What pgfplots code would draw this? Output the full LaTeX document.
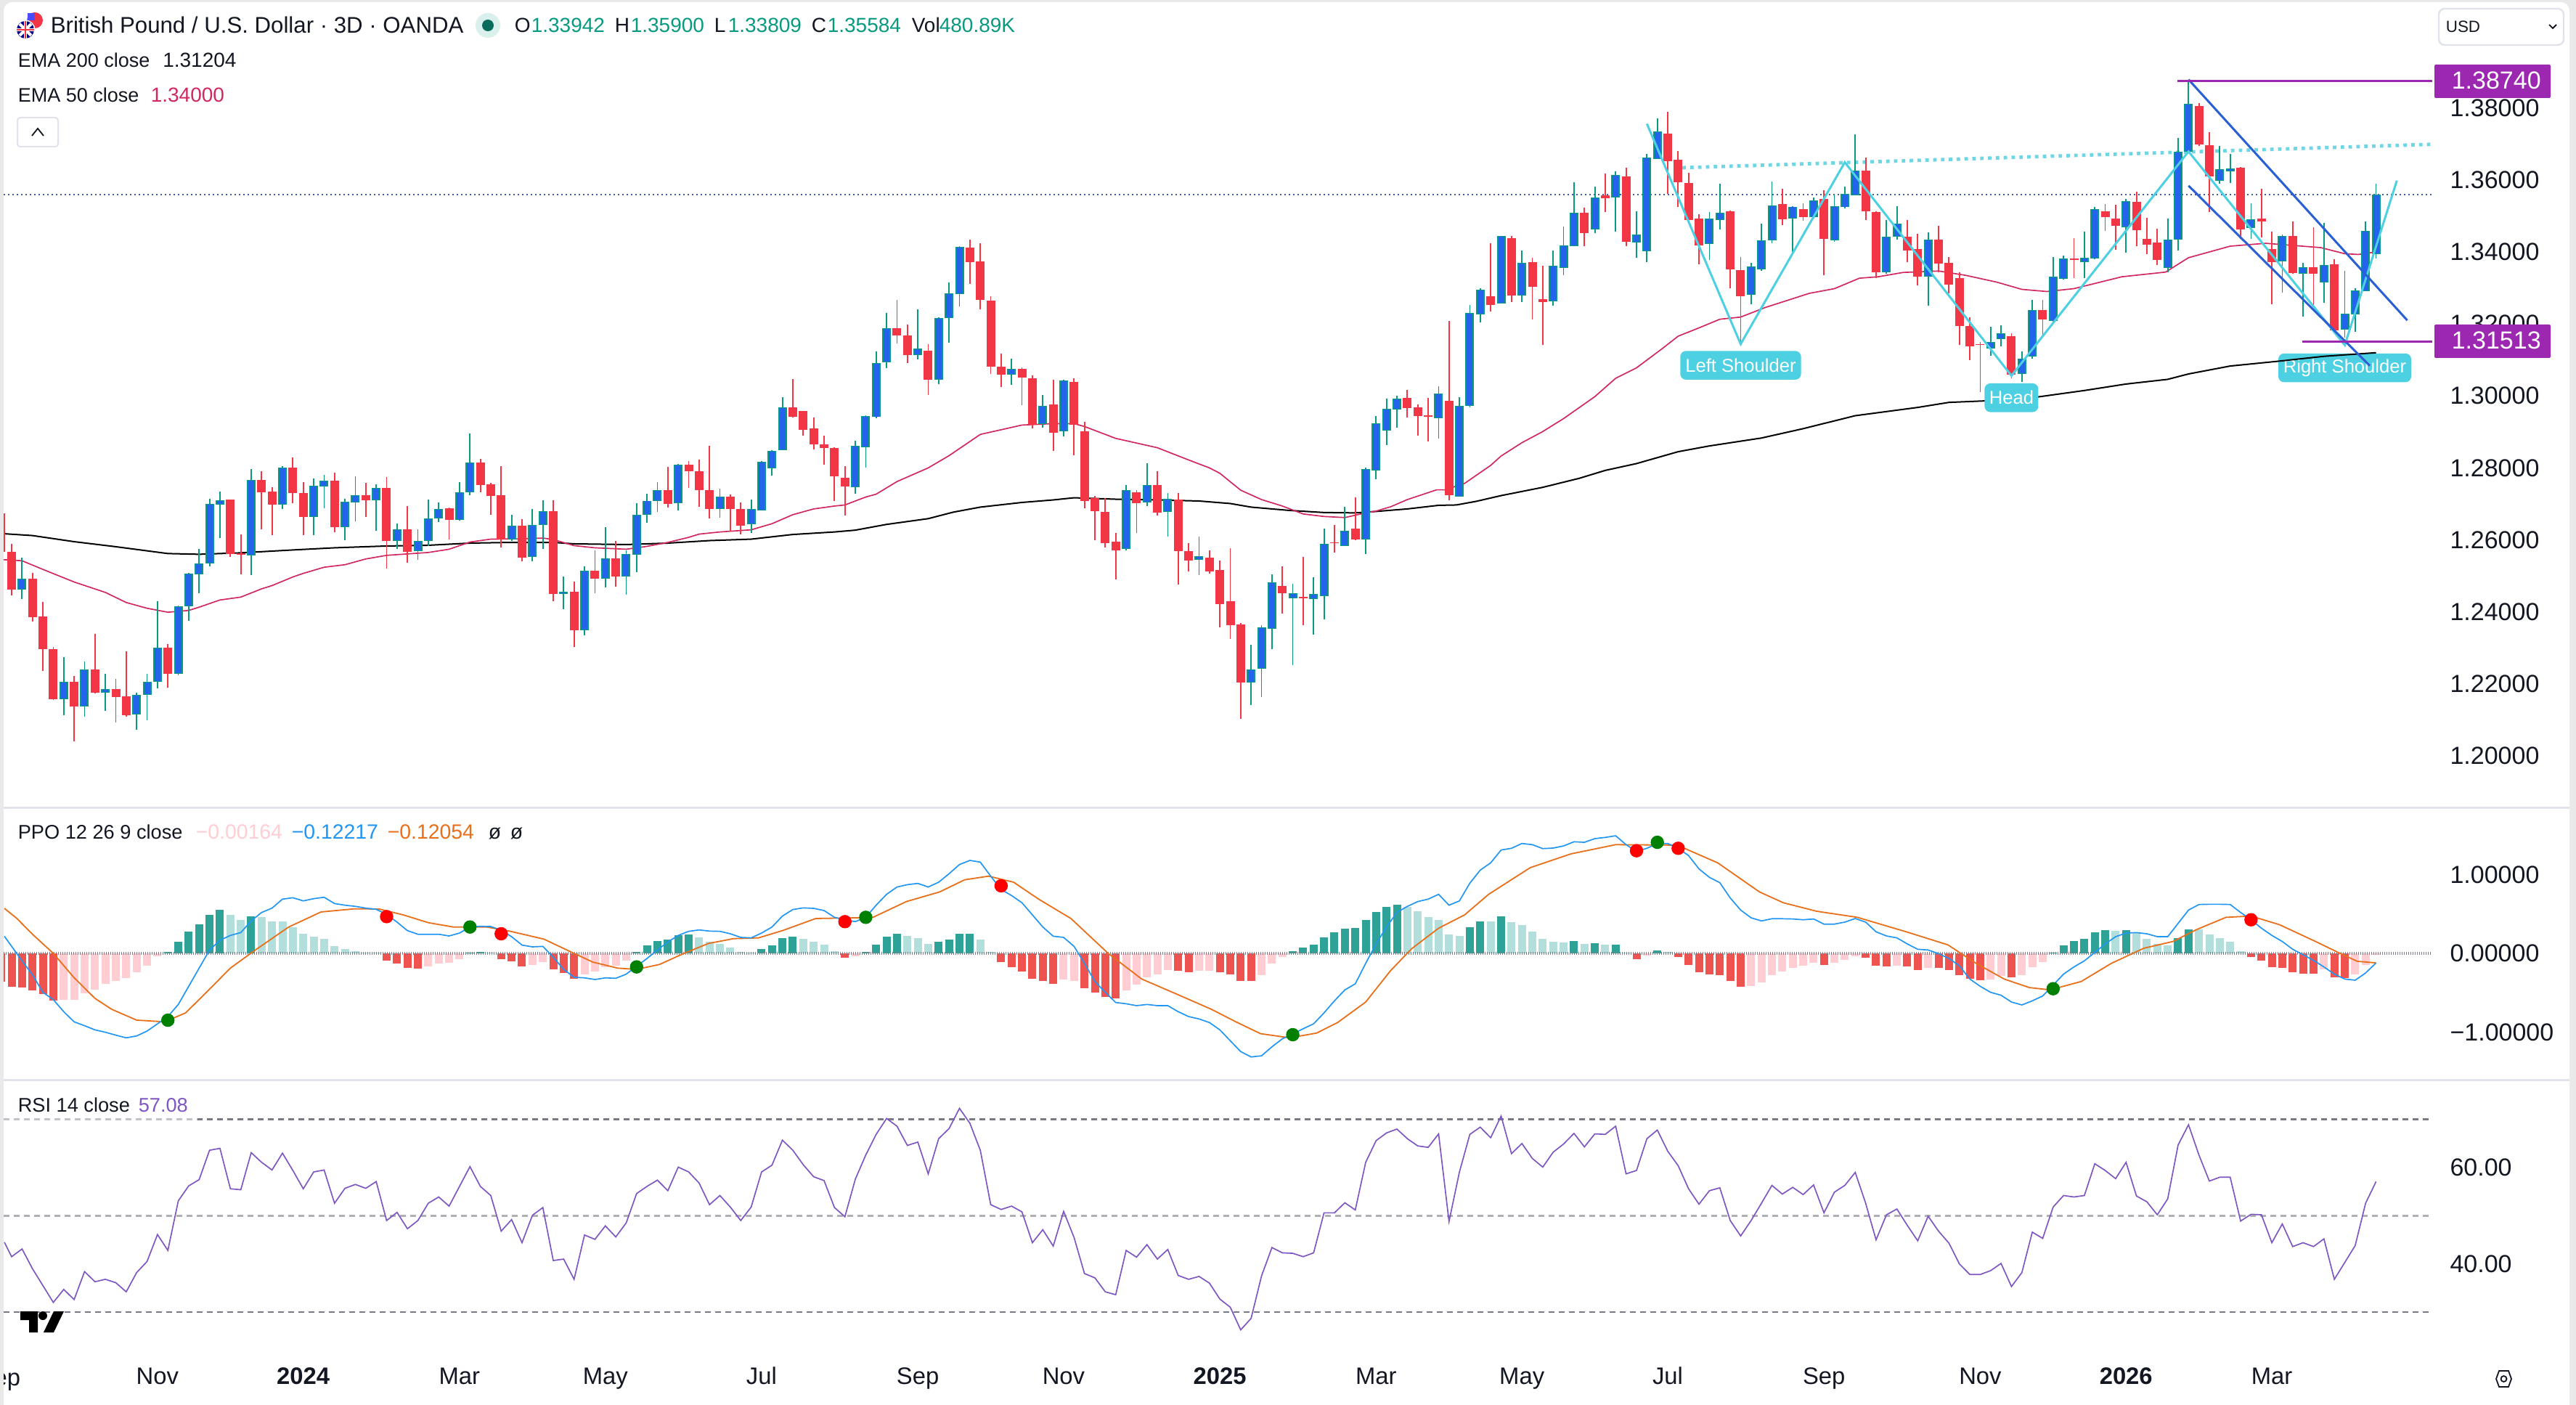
\documentclass[border=0pt]{standalone}
\usepackage{fontspec}
\setmainfont{Liberation Sans}
\usepackage{pgfplots}
\usepackage{pgfplotstable}
\pgfplotsset{compat=1.18}

\definecolor{ink}{HTML}{131722}
\definecolor{bullwick}{HTML}{089981}
\definecolor{bullbody}{HTML}{2463EB}
\definecolor{bear}{HTML}{F23645}
\definecolor{ema50}{HTML}{D0285F}
\definecolor{pane}{HTML}{E0E3EB}
\definecolor{frame}{HTML}{E9E9E9}
\definecolor{pricedot}{HTML}{3F5CA8}
\definecolor{patt}{HTML}{4DD0E1}
\definecolor{neck}{HTML}{6FD6E4}
\definecolor{flag}{HTML}{2A5FD5}
\definecolor{lvl}{HTML}{9C27B0}
\definecolor{hup}{HTML}{2FA297}
\definecolor{hupl}{HTML}{B2DFDB}
\definecolor{hdn}{HTML}{EF5350}
\definecolor{hdnl}{HTML}{FFCDD2}
\definecolor{ppoline}{HTML}{2196F3}
\definecolor{sigline}{HTML}{E8701A}
\definecolor{rsiline}{HTML}{7E57C2}
\definecolor{rsidash}{HTML}{787B86}

\newcommand{\fs}[1]{\fontsize{#1}{#1}\selectfont}
% left aligned text at a pixel position (baseline)
\newcommand{\txt}[5]{\node[anchor=base west,inner sep=0pt,text=#3,font=\fs{#4}] at (#1,#2) {#5};}
\tikzset{tag/.style={fill=patt,text=white,rounded corners=2pt,inner sep=0pt,font=\fs{6.4},minimum height=9.9pt}}

% i open high low close (body top/bottom read off the candles)
\pgfplotstableread{
i o h l c
-0.7 1.2600 1.2674 1.2566 1.2600
0 1.2566 1.2588 1.2446 1.2462
1 1.2462 1.2551 1.2436 1.2492
2 1.2492 1.2508 1.2373 1.2385
3 1.2387 1.2427 1.2236 1.2296
4 1.2296 1.2302 1.2155 1.2157
5 1.2157 1.2274 1.2113 1.2205
6 1.2205 1.2221 1.2040 1.2138
7 1.2138 1.2263 1.2108 1.2239
8 1.2239 1.2338 1.2174 1.2175
9 1.2175 1.2228 1.2124 1.2185
10 1.2185 1.2213 1.2092 1.2163
11 1.2165 1.2290 1.2109 1.2113
12 1.2114 1.2176 1.2072 1.2170
13 1.2170 1.2228 1.2098 1.2205
14 1.2205 1.2429 1.2188 1.2301
15 1.2301 1.2310 1.2189 1.2228
16 1.2228 1.2417 1.2224 1.2416
17 1.2415 1.2508 1.2375 1.2506
18 1.2504 1.2574 1.2452 1.2535
19 1.2535 1.2715 1.2526 1.2699
20 1.2697 1.2734 1.2605 1.2711
21 1.2712 1.2713 1.2553 1.2560
22 1.2562 1.2615 1.2504 1.2558
23 1.2557 1.2796 1.2503 1.2766
24 1.2766 1.2790 1.2629 1.2732
25 1.2734 1.2746 1.2614 1.2697
26 1.2697 1.2804 1.2686 1.2801
27 1.2801 1.2829 1.2701 1.2731
28 1.2731 1.2761 1.2614 1.2664
29 1.2664 1.2771 1.2614 1.2750
30 1.2748 1.2781 1.2687 1.2764
31 1.2764 1.2786 1.2622 1.2636
32 1.2636 1.2715 1.2599 1.2705
33 1.2703 1.2776 1.2651 1.2725
34 1.2725 1.2759 1.2664 1.2710
35 1.2710 1.2755 1.2626 1.2744
36 1.2744 1.2774 1.2520 1.2597
37 1.2597 1.2645 1.2574 1.2630
38 1.2630 1.2693 1.2537 1.2566
39 1.2568 1.2630 1.2544 1.2597
40 1.2597 1.2712 1.2582 1.2660
41 1.2660 1.2703 1.2649 1.2686
42 1.2688 1.2690 1.2601 1.2656
43 1.2656 1.2761 1.2653 1.2733
44 1.2733 1.2896 1.2724 1.2814
45 1.2815 1.2825 1.2732 1.2753
46 1.2754 1.2759 1.2670 1.2722
47 1.2724 1.2804 1.2578 1.2601
48 1.2602 1.2670 1.2597 1.2640
49 1.2640 1.2657 1.2541 1.2551
50 1.2552 1.2685 1.2541 1.2642
51 1.2642 1.2711 1.2575 1.2679
52 1.2680 1.2710 1.2429 1.2450
53 1.2450 1.2499 1.2408 1.2456
54 1.2456 1.2485 1.2302 1.2349
55 1.2349 1.2527 1.2334 1.2514
56 1.2514 1.2571 1.2452 1.2492
57 1.2492 1.2636 1.2467 1.2548
58 1.2548 1.2597 1.2470 1.2498
59 1.2498 1.2570 1.2448 1.2560
60 1.2559 1.2701 1.2510 1.2670
61 1.2670 1.2728 1.2648 1.2709
62 1.2709 1.2761 1.2678 1.2739
63 1.2739 1.2803 1.2690 1.2700
64 1.2701 1.2811 1.2682 1.2808
65 1.2808 1.2819 1.2745 1.2791
66 1.2791 1.2822 1.2691 1.2739
67 1.2739 1.2861 1.2660 1.2686
68 1.2686 1.2742 1.2662 1.2721
69 1.2721 1.2726 1.2624 1.2686
70 1.2686 1.2703 1.2616 1.2639
71 1.2643 1.2712 1.2619 1.2686
72 1.2682 1.2818 1.2682 1.2816
73 1.2798 1.2850 1.2778 1.2848
74 1.2849 1.2996 1.2849 1.2969
75 1.2969 1.3047 1.2940 1.2942
76 1.2958 1.2958 1.2890 1.2906
77 1.2909 1.2940 1.2852 1.2865
78 1.2865 1.2889 1.2808 1.2856
79 1.2856 1.2857 1.2707 1.2776
80 1.2772 1.2804 1.2668 1.2748
81 1.2747 1.2875 1.2728 1.2862
82 1.2858 1.2947 1.2801 1.2945
83 1.2941 1.3123 1.2938 1.3091
84 1.3094 1.3231 1.3078 1.3189
85 1.3189 1.3267 1.3145 1.3168
86 1.3168 1.3199 1.3091 1.3114
87 1.3114 1.3240 1.3102 1.3132
88 1.3126 1.3144 1.3003 1.3044
89 1.3045 1.3219 1.3033 1.3217
90 1.3216 1.3316 1.3148 1.3285
91 1.3282 1.3416 1.3249 1.3414
92 1.3412 1.3434 1.3312 1.3372
93 1.3374 1.3425 1.3240 1.3267
94 1.3265 1.3276 1.3062 1.3082
95 1.3082 1.3117 1.3024 1.3060
96 1.3060 1.3103 1.3031 1.3075
97 1.3075 1.3080 1.2974 1.3051
98 1.3049 1.3057 1.2909 1.2920
99 1.2922 1.3002 1.2911 1.2972
100 1.2976 1.3045 1.2847 1.2898
101 1.2902 1.3045 1.2887 1.3043
102 1.3039 1.3048 1.2836 1.2920
103 1.2901 1.2927 1.2688 1.2709
104 1.2717 1.2722 1.2599 1.2679
105 1.2678 1.2717 1.2579 1.2590
106 1.2595 1.2619 1.2491 1.2570
107 1.2574 1.2752 1.2570 1.2738
108 1.2732 1.2738 1.2619 1.2701
109 1.2704 1.2812 1.2694 1.2752
110 1.2752 1.2791 1.2668 1.2675
111 1.2677 1.2730 1.2609 1.2715
112 1.2713 1.2730 1.2476 1.2568
113 1.2569 1.2591 1.2513 1.2543
114 1.2545 1.2609 1.2503 1.2554
115 1.2551 1.2570 1.2506 1.2513
116 1.2516 1.2543 1.2356 1.2422
117 1.2430 1.2576 1.2324 1.2364
118 1.2365 1.2369 1.2103 1.2204
119 1.2203 1.2308 1.2142 1.2240
120 1.2242 1.2363 1.2164 1.2356
121 1.2352 1.2504 1.2297 1.2483
122 1.2472 1.2527 1.2395 1.2452
123 1.2438 1.2478 1.2253 1.2451
124 1.2441 1.2553 1.2364 1.2437
125 1.2435 1.2496 1.2336 1.2450
126 1.2443 1.2632 1.2380 1.2588
127 1.2593 1.2641 1.2565 1.2590
128 1.2583 1.2692 1.2582 1.2626
129 1.2631 1.2718 1.2599 1.2601
130 1.2602 1.2800 1.2561 1.2796
131 1.2793 1.2945 1.2769 1.2923
132 1.2903 1.2993 1.2864 1.2964
133 1.2962 1.3000 1.2912 1.2993
134 1.2995 1.3016 1.2939 1.2966
135 1.2968 1.2976 1.2890 1.2944
136 1.2946 1.2995 1.2874 1.2943
137 1.2937 1.3026 1.2882 1.3006
138 1.2986 1.3209 1.2710 1.2725
139 1.2721 1.2996 1.2721 1.2972
140 1.2973 1.3252 1.2969 1.3231
141 1.3227 1.3299 1.3205 1.3296
142 1.3277 1.3424 1.3235 1.3253
143 1.3256 1.3444 1.3256 1.3444
144 1.3439 1.3444 1.3261 1.3278
145 1.3279 1.3404 1.3261 1.3369
146 1.3372 1.3384 1.3213 1.3303
147 1.3269 1.3361 1.3142 1.3260
148 1.3263 1.3404 1.3251 1.3361
149 1.3356 1.3470 1.3336 1.3419
150 1.3416 1.3593 1.3416 1.3508
151 1.3508 1.3523 1.3417 1.3453
152 1.3463 1.3581 1.3453 1.3552
153 1.3557 1.3618 1.3510 1.3550
154 1.3551 1.3624 1.3457 1.3613
155 1.3609 1.3634 1.3416 1.3429
156 1.3427 1.3513 1.3384 1.3449
157 1.3402 1.3672 1.3372 1.3663
158 1.3659 1.3771 1.3659 1.3734
159 1.3729 1.3789 1.3561 1.3653
160 1.3657 1.3681 1.3526 1.3593
161 1.3591 1.3620 1.3488 1.3489
162 1.3492 1.3504 1.3366 1.3418
163 1.3422 1.3510 1.3377 1.3492
164 1.3488 1.3589 1.3462 1.3508
165 1.3513 1.3515 1.3300 1.3351
166 1.3350 1.3385 1.3146 1.3277
167 1.3280 1.3370 1.3254 1.3360
168 1.3351 1.3479 1.3348 1.3432
169 1.3433 1.3595 1.3424 1.3530
170 1.3533 1.3576 1.3474 1.3491
171 1.3492 1.3527 1.3393 1.3526
172 1.3518 1.3536 1.3486 1.3497
173 1.3496 1.3551 1.3493 1.3544
174 1.3547 1.3571 1.3335 1.3437
175 1.3432 1.3559 1.3429 1.3528
176 1.3524 1.3582 1.3520 1.3561
177 1.3557 1.3726 1.3557 1.3626
178 1.3626 1.3662 1.3489 1.3513
179 1.3511 1.3513 1.3327 1.3343
180 1.3344 1.3489 1.3340 1.3443
181 1.3443 1.3528 1.3435 1.3479
182 1.3442 1.3489 1.3372 1.3403
183 1.3407 1.3451 1.3308 1.3331
184 1.3331 1.3455 1.3250 1.3435
185 1.3435 1.3472 1.3343 1.3367
186 1.3370 1.3385 1.3285 1.3310
187 1.3327 1.3343 1.3142 1.3195
188 1.3194 1.3219 1.3100 1.3138
189 1.3144 1.3150 1.3011 1.3141
190 1.3131 1.3192 1.3111 1.3150
191 1.3158 1.3196 1.3138 1.3173
192 1.3165 1.3173 1.3049 1.3059
193 1.3061 1.3123 1.3039 1.3103
194 1.3109 1.3266 1.3103 1.3239
195 1.3239 1.3266 1.3165 1.3213
196 1.3208 1.3385 1.3206 1.3331
197 1.3326 1.3389 1.3323 1.3381
198 1.3381 1.3438 1.3327 1.3378
199 1.3372 1.3456 1.3327 1.3383
200 1.3381 1.3524 1.3379 1.3518
201 1.3513 1.3534 1.3459 1.3497
202 1.3493 1.3532 1.3405 1.3473
203 1.3468 1.3547 1.3397 1.3542
204 1.3540 1.3567 1.3416 1.3460
205 1.3436 1.3495 1.3393 1.3421
206 1.3426 1.3465 1.3364 1.3378
207 1.3355 1.3493 1.3344 1.3434
208 1.3434 1.3717 1.3403 1.3679
209 1.3679 1.3879 1.3675 1.3811
210 1.3806 1.3814 1.3694 1.3698
211 1.3696 1.3733 1.3510 1.3610
212 1.3597 1.3694 1.3589 1.3629
213 1.3624 1.3673 1.3592 1.3631
214 1.3634 1.3636 1.3436 1.3463
215 1.3466 1.3536 1.3436 1.3490
216 1.3493 1.3575 1.3441 1.3485
217 1.3409 1.3456 1.3255 1.3372
218 1.3373 1.3448 1.3286 1.3444
219 1.3444 1.3485 1.3340 1.3342
220 1.3339 1.3369 1.3221 1.3357
221 1.3357 1.3468 1.3247 1.3340
222 1.3315 1.3480 1.3259 1.3364
223 1.3365 1.3379 1.3175 1.3183
224 1.3185 1.3347 1.3162 1.3228
225 1.3226 1.3300 1.3179 1.3294
226 1.3291 1.3484 1.3290 1.3459
227 1.33942 1.35900 1.33809 1.35584
}\candles

% i value kind (1 rising above zero, 2 falling above zero, 3 falling below, 4 rising below)
\pgfplotstableread{
i v k
-1 -.357 3
0 -.424 3
1 -.434 3
2 -.470 3
3 -.520 3
4 -.597 3
5 -.593 4
6 -.593 4
7 -.504 4
8 -.458 4
9 -.387 4
10 -.347 4
11 -.311 4
12 -.237 4
13 -.157 4
14 -.034 4
15 .018 1
16 .148 1
17 .280 1
18 .369 1
19 .489 1
20 .554 1
21 .489 2
22 .427 2
23 .470 1
24 .464 2
25 .406 2
26 .406 2
27 .335 2
28 .249 2
29 .212 2
30 .188 2
31 .095 2
32 .052 2
33 .028 2
34 .012 2
35 .009 2
36 -.092 3
37 -.132 3
38 -.181 3
39 -.194 3
40 -.166 4
41 -.132 4
42 -.120 4
43 -.074 4
44 .012 1
45 .022 1
46 .009 2
47 -.077 3
48 -.101 3
49 -.166 3
50 -.151 4
51 -.111 4
52 -.203 3
53 -.249 3
54 -.323 3
55 -.264 4
56 -.231 4
57 -.172 4
58 -.157 4
59 -.095 4
60 .022 1
61 .105 1
62 .160 1
63 .175 1
64 .228 1
65 .240 1
66 .203 2
67 .151 2
68 .120 2
69 .074 2
70 .022 2
71 .009 2
72 .055 1
73 .101 1
74 .197 1
75 .212 1
76 .188 2
77 .151 2
78 .108 2
79 .028 2
80 -.055 3
81 -.034 4
82 .018 1
83 .111 1
84 .212 1
85 .249 1
86 .221 2
87 .197 2
88 .120 2
89 .151 1
90 .175 1
91 .249 1
92 .249 1
93 .175 2
94 .022 2
95 -.111 3
96 -.172 3
97 -.228 3
98 -.323 3
99 -.347 3
100 -.387 3
101 -.335 4
102 -.347 4
103 -.443 3
104 -.495 3
105 -.550 3
106 -.572 3
107 -.470 4
108 -.397 4
109 -.304 4
110 -.264 4
111 -.212 4
112 -.224 3
113 -.237 3
114 -.224 4
115 -.218 4
116 -.240 3
117 -.264 3
118 -.347 3
119 -.347 3
120 -.280 4
121 -.132 4
122 -.046 4
123 .028 1
124 .074 1
125 .111 1
126 .203 1
127 .268 1
128 .314 1
129 .323 1
130 .424 1
131 .526 1
132 .590 1
133 .618 1
134 .590 2
135 .535 2
136 .461 2
137 .424 2
138 .240 2
139 .221 2
140 .332 1
141 .406 1
142 .406 2
143 .470 1
144 .397 2
145 .360 2
146 .277 2
147 .184 2
148 .148 2
149 .138 2
150 .157 1
151 .120 2
152 .129 1
153 .111 2
154 .111 1
155 .009 2
156 -.074 3
157 -.028 4
158 .037 1
159 .018 2
160 -.046 3
161 -.148 3
162 -.240 3
163 -.268 3
164 -.277 3
165 -.351 3
166 -.424 3
167 -.415 4
168 -.369 4
169 -.277 4
170 -.231 4
171 -.184 4
172 -.157 4
173 -.120 4
174 -.148 3
175 -.120 4
176 -.083 4
177 -.037 4
178 -.055 3
179 -.157 3
180 -.166 3
181 -.157 4
182 -.166 3
183 -.212 3
184 -.184 4
185 -.184 3
186 -.212 3
187 -.280 3
188 -.323 3
189 -.341 3
190 -.332 4
191 -.286 4
192 -.304 3
193 -.277 4
194 -.175 4
195 -.111 4
196 .009 1
197 .101 1
198 .157 1
199 .184 1
200 .268 1
201 .295 1
202 .286 2
203 .295 1
204 .258 2
205 .184 2
206 .120 2
207 .101 2
208 .194 1
209 .304 1
210 .304 2
211 .240 2
212 .194 2
213 .148 2
214 .028 2
215 -.046 3
216 -.092 3
217 -.175 3
218 -.184 3
219 -.240 3
220 -.258 3
221 -.258 3
222 -.203 4
223 -.304 3
224 -.314 3
225 -.268 4
226 -.148 4
227 -.015 4
}\hist

\begin{document}
\begin{tikzpicture}
\path[use as bounding box] (0,0) rectangle (887pt,-483.75pt);
\begin{scope}[x=0.25pt,y=-0.25pt]
\fill[frame] (0,0) rectangle (3548,1935);
\fill[white,rounded corners=3pt] (5,3) rectangle (3539,1960);
\end{scope}

\pgfplotsset{
  pane/.style={
    scale only axis, width=836.25pt, xmin=-0.77, xmax=232.4,
    anchor=south west,
    axis line style={draw=none}, tick style={draw=none},
    major tick length=0pt, xtick=\empty,
    yticklabel pos=right,
    yticklabel style={anchor=west,xshift=2.6pt,font=\fs{8.5},text=ink},
  },
  wick/.style={no markers,draw=none,forget plot,error bars/y dir=plus,error bars/y explicit,error bars/error mark=none,error bars/error bar style={draw=#1,line width=0.45pt}},
  body/.style 2 args={no markers,draw=none,forget plot,error bars/y dir=plus,error bars/y explicit,error bars/error mark=none,error bars/error bar style={draw=#1,line width=#2}},
}

% price pane
\begin{axis}[pane,at={(1.25pt,-278pt)},height=277.25pt,
  ymin=1.18567,ymax=1.40939,
  ytick={1.20,1.22,1.24,1.26,1.28,1.30,1.32,1.34,1.36,1.38},
  yticklabels={1.20000,1.22000,1.24000,1.26000,1.28000,1.30000,1.32000,1.34000,1.36000,1.38000},
]
\addplot[pricedot,line width=0.5pt,dash pattern=on 0.6pt off 0.9pt] coordinates {(-0.77,1.35584)(232.4,1.35584)};
\node[tag,minimum width=45.75pt] at (axis cs:224,1.3078) {Right Shoulder};
\addplot[neck,line width=1.2pt,dash pattern=on 1.2pt off 1.5pt] coordinates {(160.4,1.3634)(232.4,1.3699)};
\addplot[black,line width=0.5pt] coordinates {(-0.7,1.2617)(2,1.2612)(6,1.2595)(10,1.2581)(15,1.2562)(18,1.2560)(22,1.2564)(27,1.2572)(31,1.2578)(36,1.2583)(40,1.2585)(44,1.2591)(48,1.2593)(52,1.2593)(54,1.2589)(59,1.2587)(63,1.2591)(67,1.2598)(71,1.2602)(75,1.2615)(79,1.2622)(81,1.2627)(84,1.2643)(88,1.2659)(90.4,1.2677)(93,1.2691)(97,1.2704)(100,1.2711)(102,1.2717)(106,1.2713)(110,1.2711)(114,1.2708)(117,1.2701)(119,1.2691)(122.6,1.2682)(126,1.2676)(129,1.2675)(131,1.2679)(134,1.2686)(137,1.2696)(138.7,1.2697)(140.6,1.2707)(143,1.2723)(147,1.2746)(150.5,1.2771)(153,1.2793)(156,1.2812)(160,1.2845)(163,1.2861)(168,1.2883)(172,1.2909)(177,1.2945)(183,1.2968)(186,1.2982)(191,1.2988)(194,1.2995)(199,1.3015)(203,1.3033)(207,1.3046)(209,1.3061)(213,1.3083)(217.5,1.3096)(222,1.3110)(227,1.3120)};
\addplot[ema50,line width=0.42pt] coordinates {(-0.8,1.2545)(1,1.2542)(3,1.2518)(6,1.2483)(9,1.2454)(11,1.2426)(13,1.2410)(15,1.2399)(17,1.2404)(18,1.2413)(20,1.2433)(22,1.2441)(24,1.2464)(25,1.2473)(27,1.2497)(28,1.2507)(30,1.2524)(32,1.2531)(34,1.2547)(36,1.2557)(38,1.2561)(40,1.2565)(42,1.2574)(44,1.2594)(46,1.2602)(49,1.2603)(51,1.2605)(52,1.2601)(54,1.2584)(56,1.2578)(59,1.2574)(61,1.2582)(63,1.2593)(65,1.2607)(66,1.2616)(68,1.2622)(71,1.2628)(73,1.2645)(75,1.2670)(77,1.2686)(79,1.2694)(80,1.2697)(82,1.2719)(83,1.2727)(85,1.2762)(88,1.2800)(90,1.2834)(93,1.2893)(97,1.2919)(100,1.2923)(102,1.2923)(103,1.2915)(106,1.2882)(108,1.2869)(110,1.2856)(113,1.2822)(115,1.2800)(116,1.2785)(118,1.2738)(120,1.2712)(122,1.2694)(124,1.2672)(126,1.2665)(128,1.2662)(130,1.2675)(131,1.2680)(132.4,1.2692)(134,1.2712)(136.8,1.2739)(137.6,1.2739)(139.5,1.2757)(142,1.2807)(143,1.2833)(145,1.2870)(147,1.2901)(149,1.2937)(152,1.2998)(154,1.3049)(156,1.3078)(158.5,1.3132)(160,1.3166)(162,1.3189)(164,1.3213)(166,1.3219)(168.4,1.3246)(172.6,1.3285)(175,1.3298)(177.4,1.3327)(179.2,1.3331)(181.6,1.3343)(185,1.3347)(187.6,1.3335)(190.6,1.3316)(193,1.3296)(195.4,1.3290)(198,1.3298)(202.6,1.3331)(206.8,1.3344)(209,1.3384)(213,1.3416)(216.4,1.3424)(221.7,1.3412)(224,1.3395)(225.3,1.3393)(227,1.3400)};
% wicks
\addplot[wick=bullwick,restrict expr to domain={\thisrow{c}-\thisrow{o}}{0.00001:1}] table[x=i,y=l,y error plus expr=\thisrow{h}-\thisrow{l}] {\candles};
\addplot[wick=bear,restrict expr to domain={\thisrow{c}-\thisrow{o}}{-1:0}] table[x=i,y=l,y error plus expr=\thisrow{h}-\thisrow{l}] {\candles};
% bodies
\addplot[body={bear}{3pt},restrict expr to domain={\thisrow{c}-\thisrow{o}}{-1:0}] table[x=i,y=c,y error plus expr=\thisrow{o}-\thisrow{c}] {\candles};
\addplot[body={bullwick}{3pt},restrict expr to domain={\thisrow{c}-\thisrow{o}}{0.00001:1}] table[x=i,y=o,y error plus expr=\thisrow{c}-\thisrow{o}] {\candles};
\addplot[body={bullbody}{2pt},restrict expr to domain={\thisrow{c}-\thisrow{o}}{0.0005:1}] table[x=i,y expr=\thisrow{o}+0.0002,y error plus expr=\thisrow{c}-\thisrow{o}-0.0004] {\candles};
% head and shoulders, flag, levels
\addplot[patt,line width=0.75pt] coordinates {(157,1.3756)(166,1.3144)(176,1.3649)(192,1.3056)(209,1.3679)(224,1.3141)(229,1.3598)};
\addplot[flag,line width=0.75pt] coordinates {(209,1.3879)(230,1.3210)};
\addplot[flag,line width=0.75pt] coordinates {(209,1.3584)(226.4,1.3084)};
\addplot[lvl,line width=0.75pt] coordinates {(207.9,1.38740)(232.4,1.38740)};
\addplot[lvl,line width=0.75pt] coordinates {(219.9,1.31513)(232.4,1.31513)};
\node[tag,minimum width=41.6pt] at (axis cs:166,1.3085) {Left Shoulder};
\node[tag,minimum width=18.5pt] at (axis cs:192,1.2995) {Head};
\end{axis}

% PPO pane
\begin{axis}[pane,at={(1.25pt,-371.75pt)},height=93.5pt,
  ymin=-1.605,ymax=1.845,
  ytick={-1,0,1},yticklabels={−1.00000,0.00000,1.00000},
]
\addplot[ycomb,hdnl,line width=2.75pt,restrict expr to domain={\thisrow{k}}{4:4}] table[x=i,y=v] {\hist};
\addplot[ycomb,hdn,line width=2.75pt,restrict expr to domain={\thisrow{k}}{3:3}] table[x=i,y=v] {\hist};
\addplot[ycomb,hupl,line width=2.75pt,restrict expr to domain={\thisrow{k}}{2:2}] table[x=i,y=v] {\hist};
\addplot[ycomb,hup,line width=2.75pt,restrict expr to domain={\thisrow{k}}{1:1}] table[x=i,y=v] {\hist};
\addplot[rsidash,line width=1pt,dash pattern=on 0.25pt off 0.5pt] coordinates {(-0.77,0)(232.4,0)};
\addplot[sigline,line width=0.45pt] coordinates {(-0.7,.572)(.5,.444)(2,.243)(4,0)(6,-.310)(8,-.572)(9.6,-.710)(12,-.848)(14.7,-.870)(16.7,-.756)(18.7,-.495)(21,-.187)(23.4,.043)(26.6,.335)(29.7,.526)(32.9,.566)(35.3,.563)(37.6,.489)(40,.390)(42.4,.335)(45.6,.335)(47.9,.280)(51.1,.181)(53.9,.006)(55.8,-.111)(58.2,-.188)(60,-.203)(62.2,-.141)(64.5,-.003)(66.9,.126)(69.3,.187)(71.7,.197)(74,.289)(77.2,.443)(81.2,.452)(82.7,.458)(85.9,.658)(89.1,.781)(91.5,.935)(93.8,.981)(96.2,.904)(98.6,.689)(101.7,.443)(105.3,-.003)(108.5,-.326)(112,-.526)(115.2,-.711)(117.5,-.867)(119.9,-1.020)(122.7,-1.073)(125.3,-1.012)(127.3,-.879)(130,-.618)(132.4,-.218)(134.4,.058)(137,.320)(139.5,.489)(141.8,.750)(145.8,1.089)(149.7,1.264)(154,1.381)(159.9,1.375)(163.8,1.150)(167.8,.781)(170.1,.643)(173.3,.535)(177.2,.458)(181.9,.274)(185.9,.108)(188.6,-.126)(191.3,-.326)(193.7,-.434)(195.7,-.464)(198.7,-.357)(201.6,-.126)(204.7,.065)(207.5,.151)(209.8,.304)(212.6,.458)(215,.474)(217.7,.366)(221.2,.151)(223.6,-.003)(225.2,-.101)(227,-.12054)};
\addplot[ppoline,line width=0.42pt] coordinates {(-0.7,.218)(0,.089)(1,-.095)(2,-.271)(3,-.495)(4,-.587)(5,-.741)(6,-.870)(7,-.919)(8,-.972)(9,-1.002)(10,-1.039)(11,-1.073)(12,-1.049)(13,-.987)(14,-.895)(15,-.803)(16,-.649)(17,-.418)(18,-.188)(19,.043)(20,.166)(21,.228)(22,.264)(23,.412)(24,.520)(25,.575)(26,.689)(27,.707)(28,.667)(29,.695)(30,.713)(31,.633)(32,.612)(33,.597)(34,.575)(35,.560)(36,.495)(37,.397)(38,.289)(39,.243)(40,.243)(41,.243)(42,.221)(43,.258)(44,.335)(45,.344)(46,.341)(47,.295)(48,.212)(49,.105)(50,.083)(51,.089)(52,-.049)(53,-.203)(54,-.304)(55,-.311)(56,-.332)(57,-.311)(58,-.317)(59,-.264)(60,-.163)(61,-.065)(62,.043)(63,.145)(64,.228)(65,.280)(66,.298)(67,.283)(68,.280)(69,.249)(70,.203)(71,.197)(72,.258)(73,.335)(74,.474)(75,.557)(76,.578)(77,.572)(78,.544)(79,.458)(80,.427)(81,.403)(82,.458)(83,.612)(84,.750)(85,.843)(86,.873)(87,.889)(88,.843)(89,.904)(90,1.012)(91,1.129)(92,1.181)(93,1.159)(94,.981)(95,.812)(96,.735)(97,.643)(98,.489)(99,.335)(100,.218)(101,.203)(102,.089)(103,-.126)(104,-.357)(105,-.495)(106,-.624)(107,-.640)(108,-.664)(109,-.649)(110,-.664)(111,-.664)(112,-.741)(113,-.803)(114,-.833)(115,-.879)(116,-.972)(117,-1.110)(118,-1.248)(119,-1.316)(120,-1.301)(121,-1.187)(122,-1.085)(123,-1.025)(124,-.957)(125,-.895)(126,-.756)(127,-.603)(128,-.464)(129,-.387)(130,-.126)(131,.120)(132,.335)(133,.520)(134,.597)(135,.658)(136,.689)(137,.750)(138,.612)(139,.667)(140,.892)(141,1.058)(142,1.150)(143,1.313)(144,1.335)(145,1.396)(146,1.381)(147,1.331)(148,1.338)(149,1.365)(150,1.418)(151,1.411)(152,1.458)(153,1.473)(154,1.494)(155,1.381)(156,1.295)(157,1.335)(158,1.396)(159,1.396)(160,1.335)(161,1.242)(162,1.073)(163,.966)(164,.898)(165,.704)(166,.550)(167,.452)(168,.412)(169,.440)(170,.440)(171,.437)(172,.427)(173,.437)(174,.372)(175,.372)(176,.397)(177,.443)(178,.397)(179,.274)(180,.221)(181,.197)(182,.120)(183,.052)(184,.043)(185,-.003)(186,-.065)(187,-.157)(188,-.326)(189,-.418)(190,-.495)(191,-.532)(192,-.618)(193,-.655)(194,-.603)(195,-.541)(196,-.403)(197,-.264)(198,-.172)(199,-.095)(200,.012)(201,.120)(202,.212)(203,.258)(204,.264)(205,.249)(206,.212)(207,.212)(208,.381)(209,.550)(210,.621)(211,.624)(212,.624)(213,.621)(214,.520)(215,.427)(216,.320)(217,.228)(218,.151)(219,.052)(220,-.018)(221,-.089)(222,-.172)(223,-.264)(224,-.326)(225,-.341)(226,-.249)(227,-.12217)};
\addplot[only marks,mark=*,mark size=2.1pt,mark options={fill=green!50!black,draw=none},color=green!50!black] coordinates {(15,-.849)(44,.335)(60,-.172)(82,.458)(123,-1.033)(158,1.411)(196,-.449)};
\addplot[only marks,mark=*,mark size=2.1pt,mark options={fill=red,draw=none},color=red] coordinates {(36,.467)(47,.249)(80,.403)(95,.858)(156,1.304)(160,1.335)(215,.427)};
\end{axis}

% RSI pane
\begin{axis}[pane,at={(1.25pt,-467.5pt)},height=95.5pt,
  ymin=20.5,ymax=78.1,
  ytick={40,60},yticklabels={40.00,60.00},
  xtick={14,28,43,57,72,87,101,116,131,145,159,174,189,203,217},
  xticklabels={Nov,\textbf{2024},Mar,May,Jul,Sep,Nov,\textbf{2025},Mar,May,Jul,Sep,Nov,\textbf{2026},Mar},
  xticklabel style={anchor=base,yshift=-9pt,font=\fs{8.2},text=ink},
]
\addplot[rsidash,line width=0.65pt,dash pattern=on 2pt off 1.5pt] coordinates {(-0.77,70)(232.4,70)};
\addplot[rsidash!60,line width=0.65pt,dash pattern=on 2pt off 1.5pt] coordinates {(-0.77,50)(232.4,50)};
\addplot[rsidash,line width=0.65pt,dash pattern=on 2pt off 1.5pt] coordinates {(-0.77,30)(232.4,30)};
\addplot[rsiline,line width=0.42pt] coordinates {(-0.7,44.5)(0,41.5)(1,43.1)(2,39.0)(3,35.5)(4,32.0)(5,34.7)(6,32.6)(7,38.4)(8,36.3)(9,36.8)(10,36.1)(11,34.2)(12,38.2)(13,40.5)(14,46.1)(15,42.8)(16,53.1)(17,56.2)(18,57.5)(19,63.6)(20,64.0)(21,55.6)(22,55.4)(23,63.1)(24,61.1)(25,59.5)(26,63.0)(27,59.4)(28,55.6)(29,59.1)(30,59.5)(31,52.6)(32,55.7)(33,56.5)(34,55.7)(35,57.1)(36,49.0)(37,50.7)(38,47.3)(39,49.0)(40,52.6)(41,53.9)(42,52.0)(43,56.1)(44,60.2)(45,56.1)(46,54.2)(47,46.8)(48,49.2)(49,44.4)(50,50.1)(51,51.7)(52,40.7)(53,41.0)(54,36.8)(55,46.0)(56,45.1)(57,47.9)(58,45.6)(59,48.5)(60,54.6)(61,56.1)(62,57.4)(63,55.2)(64,60.1)(65,59.1)(66,56.8)(67,52.3)(68,54.2)(69,51.8)(70,49.0)(71,51.8)(72,59.1)(73,60.5)(74,65.7)(75,63.6)(76,60.6)(77,58.1)(78,57.3)(79,51.7)(80,49.8)(81,57.6)(82,62.6)(83,66.9)(84,70.2)(85,68.6)(86,64.6)(87,65.3)(88,58.7)(89,66.0)(90,68.1)(91,72.3)(92,69.2)(93,63.6)(94,52.3)(95,51.3)(96,52.0)(97,50.8)(98,44.4)(99,47.1)(100,43.7)(101,50.9)(102,45.5)(103,38.0)(104,37.1)(105,34.2)(106,33.6)(107,42.8)(108,41.4)(109,44.0)(110,41.0)(111,43.0)(112,37.6)(113,36.8)(114,37.4)(115,36.0)(116,32.7)(117,31.0)(118,26.3)(119,28.7)(120,37.5)(121,43.4)(122,42.3)(123,42.2)(124,41.5)(125,42.3)(126,50.6)(127,50.6)(128,52.7)(129,51.2)(130,61.1)(131,65.6)(132,67.2)(133,68.0)(134,66.0)(135,64.5)(136,64.2)(137,67.0)(138,48.8)(139,59.1)(140,66.9)(141,68.4)(142,66.2)(143,70.7)(144,62.9)(145,65.0)(146,61.9)(147,60.1)(148,63.2)(149,64.9)(150,67.1)(151,64.3)(152,67.0)(153,66.9)(154,68.6)(155,58.7)(156,59.4)(157,66.0)(158,67.8)(159,63.4)(160,60.4)(161,55.6)(162,52.4)(163,55.2)(164,55.8)(165,49.0)(166,45.8)(167,49.0)(168,52.6)(169,56.3)(170,54.5)(171,55.9)(172,54.4)(173,56.4)(174,50.6)(175,54.9)(176,56.3)(177,59.0)(178,52.6)(179,45.0)(180,50.2)(181,51.4)(182,48.0)(183,44.8)(184,49.9)(185,46.8)(186,44.3)(187,40.0)(188,37.8)(189,37.8)(190,38.6)(191,40.1)(192,35.3)(193,38.2)(194,46.6)(195,45.3)(196,51.8)(197,54.2)(198,53.9)(199,54.2)(200,60.8)(201,59.4)(202,57.7)(203,61.1)(204,54.1)(205,52.9)(206,50.2)(207,53.5)(208,64.7)(209,68.9)(210,62.6)(211,57.2)(212,58.0)(213,58.0)(214,48.9)(215,50.3)(216,50.2)(217,44.4)(218,48.3)(219,43.6)(220,44.4)(221,43.6)(222,45.2)(223,36.8)(224,40.3)(225,43.8)(226,52.6)(227,57.08)};
\end{axis}

\begin{scope}[x=0.25pt,y=-0.25pt]
% first date label, cut by the frame
\node[anchor=base,inner sep=0pt,text=ink,font=\fs{8.2}] at (-1,1908) {Sep};
\fill[frame] (0,1490) rectangle (5,1935);
% pane separators
\fill[pane] (5,1111) rectangle (3539,1114);
\fill[pane] (5,1486) rectangle (3539,1489);
\fill[white,opacity=.55] (5,1510) rectangle (272,1548);
% flags
\fill[bear] (48,28) circle (11);
\fill[blue!70!white] (38,18) rectangle (48,28);
\fill[white] (35,41) circle (13.5);
\fill[blue!55!black] (35,41) circle (12);
\draw[white,line width=1pt] (27,33) -- (43,49) (43,33) -- (27,49);
\draw[white,line width=1.1pt] (35,29) -- (35,53) (23,41) -- (47,41);
\draw[bear,line width=0.5pt] (35,29) -- (35,53) (23,41) -- (47,41);
% title row
\txt{69}{46}{ink}{7.8}{British Pound / U.S. Dollar · 3D · OANDA}
\fill[bullwick!15] (672,35) ellipse (17 and 17);
\fill[bullwick!70!black] (672,35) circle (8);
\txt{708}{45}{ink}{7}{O}\txt{731}{45}{bullwick}{7}{1.33942}
\txt{846}{45}{ink}{7}{H}\txt{868}{45}{bullwick}{7}{1.35900}
\txt{983}{45}{ink}{7}{L}\txt{1002}{45}{bullwick}{7}{1.33809}
\txt{1117}{45}{ink}{7}{C}\txt{1139}{45}{bullwick}{7}{1.35584}
\txt{1255}{45}{ink}{7}{Vol}\txt{1293}{45}{bullwick}{7}{480.89K}
\txt{24}{93}{ink}{6.75}{EMA 200 close}\txt{223.5}{93}{ink}{7}{1.31204}
\txt{24}{141}{ink}{6.75}{EMA 50 close}\txt{207}{141}{ema50}{7}{1.34000}
\draw[pane,line width=0.5pt,rounded corners=1pt] (24,162) rectangle (80,202);
\draw[ink,line width=0.45pt] (44,187) -- (52,177) -- (60,187);
% currency box
\draw[pane,line width=0.6pt,rounded corners=2pt] (3359,12) rectangle (3531,62);
\txt{3368}{45}{ink}{5.6}{USD}
\draw[ink,line width=0.45pt] (3511,34) -- (3516,39) -- (3521,34);
% level tags, over the tick labels they hide
\fill[white] (3353,447) rectangle (3513,493);
\fill[lvl,rounded corners=0.5pt] (3353,89) rectangle (3513,135);
\fill[lvl,rounded corners=0.5pt] (3353,447) rectangle (3513,493);
\txt{3376}{123}{white}{8.5}{1.38740}
\txt{3376}{481}{white}{8.5}{1.31513}
% pane legends
\txt{24}{1156}{ink}{6.8}{PPO 12 26 9 close}
\txt{269}{1156}{hdnl}{7.1}{−0.00164}
\txt{401}{1156}{ppoline}{7.1}{−0.12217}
\txt{533}{1156}{sigline}{7.1}{−0.12054}
\txt{672}{1156}{ink}{7.1}{ø}\txt{702}{1156}{ink}{7.1}{ø}
\txt{24}{1531}{ink}{6.8}{RSI 14 close}\txt{190}{1531}{rsiline}{6.8}{57.08}
% logo
\fill[black] (28,1806) -- (52,1806) -- (52,1835) -- (40,1835) -- (40,1818) -- (28,1818) -- cycle;
\fill[black] (59,1812) circle (6);
\fill[black] (74,1806) -- (88,1806) -- (74,1835) -- (60,1835) -- cycle;
% settings icon
\draw[ink,line width=0.45pt] (3438,1899) -- (3442,1888) -- (3455,1888) -- (3459,1899) -- (3455,1910) -- (3442,1910) -- cycle;
\draw[ink,line width=0.45pt] (3448.5,1899) circle (4);
\end{scope}
\end{tikzpicture}
\end{document}
